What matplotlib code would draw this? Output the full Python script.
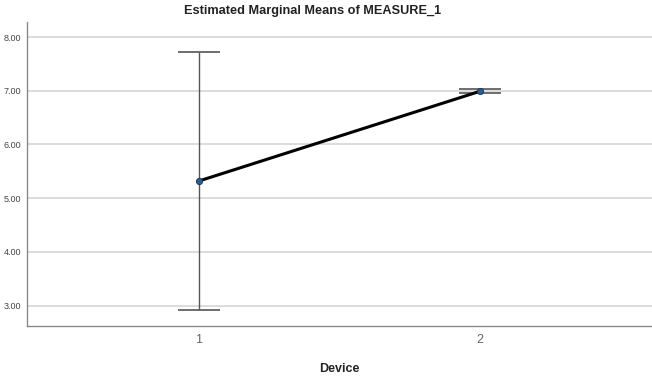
import matplotlib
matplotlib.use("Agg")
import matplotlib.pyplot as plt

plt.rcParams["font.family"] = ["Liberation Sans", "DejaVu Sans"]

# estimated marginal means with 95% CI
devices = [1, 2]
means = [5.32, 6.99]
ci_low = [2.91, 6.95]
ci_high = [7.73, 7.04]
yticks = [3.0, 4.0, 5.0, 6.0, 7.0, 8.0]

fig = plt.figure(figsize=(6.52, 3.76), dpi=100)
ax = fig.add_axes([0.0414, 0.133, 0.9586, 0.8085])

ax.set_xlim(0.388, 2.612)
ax.set_ylim(2.62, 8.28)
ax.set_yticks(yticks)
ax.set_yticklabels(["%.2f" % v for v in yticks])
ax.set_xticks(devices)
ax.set_xticklabels([str(d) for d in devices])
ax.grid(axis="y", color="#d6d6d6", lw=1.2)
ax.set_axisbelow(True)

yerr = [[m - lo for m, lo in zip(means, ci_low)], [hi - m for m, hi in zip(means, ci_high)]]
ax.errorbar(devices, means, yerr=yerr, fmt="none", ecolor="#555555", elinewidth=1.0,
            capsize=15, capthick=1.2, zorder=2)
ax.plot(devices, means, color="black", lw=2.2, zorder=3)
ax.plot(devices, means, "o", ms=4.5, mfc="#2a5d93", mec="#1c3350", mew=0.6, zorder=4)

for s in ("top", "right"):
    ax.spines[s].set_visible(False)
for s in ("left", "bottom"):
    ax.spines[s].set_color("#8a8a8a")
    ax.spines[s].set_linewidth(1.0)
ax.tick_params(axis="y", length=0, labelsize=6.5, labelcolor="#444444", pad=4)
ax.tick_params(axis="x", length=0, labelsize=9, labelcolor="#666666", pad=6)

# SPSS puts the title a little left of the plot centre
fig.text(313 / 652, 1 - 11 / 376, "Estimated Marginal Means of MEASURE_1",
         ha="center", va="center", fontsize=9.2, weight="bold", color="#222222")
ax.set_xlabel("Device", fontsize=9, weight="bold", labelpad=12, color="#222222")

fig.savefig("out.png", dpi=100)
